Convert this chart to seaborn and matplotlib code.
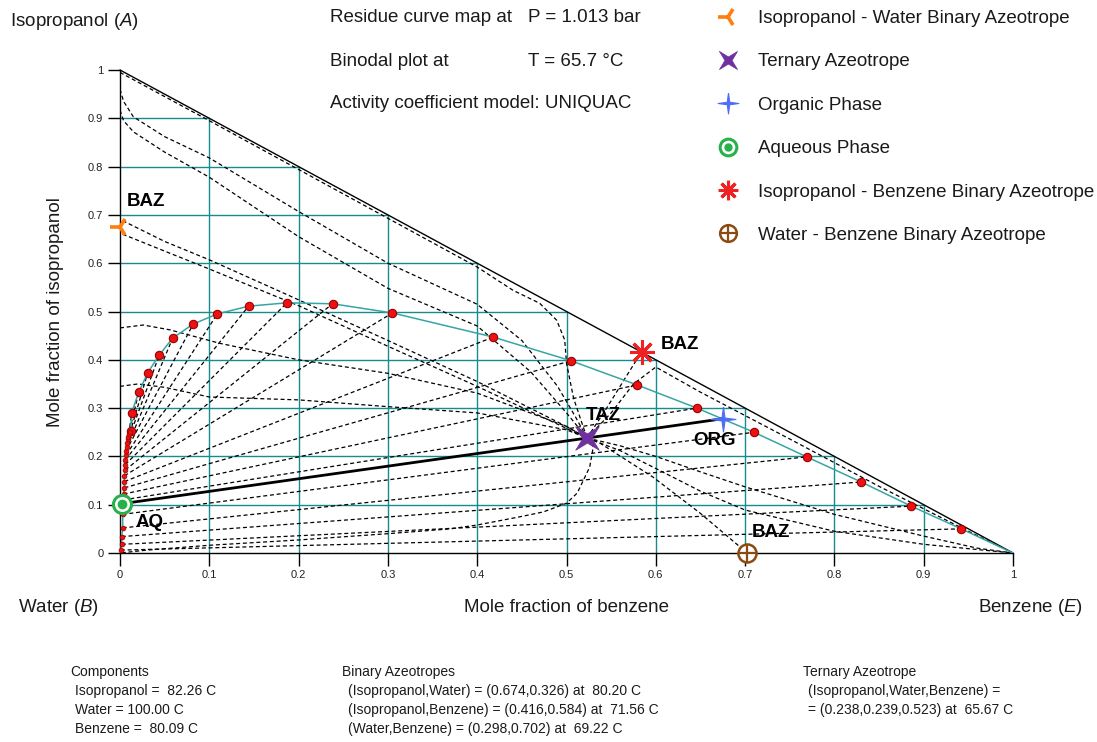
import matplotlib
matplotlib.use("Agg")
import matplotlib.pyplot as plt
from matplotlib.lines import Line2D
import numpy as np
import pandas as pd
import seaborn as sns

# ---------------- data ----------------
tick_values = [0, 0.1, 0.2, 0.3, 0.4, 0.5, 0.6, 0.7, 0.8, 0.9, 1]
tick_labels = ["0", "0.1", "0.2", "0.3", "0.4", "0.5", "0.6", "0.7", "0.8", "0.9", "1"]

# binodal at 65.7 C: organic-phase ends of the tie lines (x = benzene, y = isopropanol)
org_benzene = [0.942, 0.886, 0.830, 0.769, 0.710, 0.646, 0.579, 0.505, 0.418, 0.305, 0.238,
               0.187, 0.144, 0.109, 0.082, 0.059, 0.044, 0.031, 0.021, 0.013, 0.012]
org_ipa = [0.050, 0.097, 0.147, 0.199, 0.250, 0.300, 0.348, 0.398, 0.447, 0.497, 0.516,
           0.518, 0.511, 0.495, 0.474, 0.445, 0.410, 0.373, 0.333, 0.290, 0.253]
# aqueous-phase ends of the same tie lines
aq_benzene = [0.001, 0.002, 0.002, 0.003, 0.003, 0.004, 0.004, 0.005, 0.005, 0.005, 0.006,
              0.006, 0.006, 0.007, 0.007, 0.008, 0.008, 0.009, 0.009, 0.010, 0.011]
aq_ipa = [0.006, 0.018, 0.034, 0.052, 0.080, 0.110, 0.122, 0.135, 0.148, 0.160, 0.172,
          0.183, 0.193, 0.203, 0.212, 0.220, 0.228, 0.235, 0.241, 0.247, 0.251]
binodal_start = (0.001, 0.0)
binodal_end = (1.0, 0.0)

# azeotropes and the phase split of the ternary azeotrope
baz_ipa_water = (0.0, 0.674)
baz_ipa_benzene = (0.584, 0.416)
baz_water_benzene = (0.702, 0.0)
taz = (0.523, 0.238)
org_phase = (0.675, 0.278)
aq_phase = (0.002, 0.102)

# residue curves at 1.013 bar
rc_top1_x = [0.000, 0.004, 0.015, 0.05, 0.10, 0.20, 0.30, 0.40, 0.45, 0.49, 0.51, 0.523]
rc_top1_y = [0.960, 0.935, 0.903, 0.862, 0.818, 0.707, 0.600, 0.515, 0.440, 0.345, 0.282, 0.238]
rc_top2_x = [0.000, 0.004, 0.015, 0.05, 0.10, 0.20, 0.30, 0.40, 0.46, 0.50, 0.523]
rc_top2_y = [0.917, 0.895, 0.872, 0.830, 0.778, 0.655, 0.548, 0.470, 0.375, 0.290, 0.238]
rc_edge_x = [0.000, 0.10, 0.20, 0.30, 0.40, 0.44, 0.470, 0.489, 0.498, 0.500, 0.508, 0.518, 0.523]
rc_edge_y = [0.995, 0.895, 0.794, 0.693, 0.592, 0.544, 0.517, 0.482, 0.441, 0.393, 0.320, 0.265, 0.238]
rc_baz1_x = [0.003, 0.05, 0.10, 0.187, 0.30, 0.40, 0.50, 0.523]
rc_baz1_y = [0.688, 0.645, 0.607, 0.535, 0.440, 0.355, 0.262, 0.238]
rc_baz2_x = [0.003, 0.05, 0.10, 0.20, 0.30, 0.40, 0.50, 0.523]
rc_baz2_y = [0.660, 0.625, 0.588, 0.512, 0.428, 0.345, 0.258, 0.238]
rc_w1_x = [0.000, 0.026, 0.056, 0.112, 0.20, 0.30, 0.40, 0.50, 0.523]
rc_w1_y = [0.466, 0.472, 0.462, 0.434, 0.400, 0.372, 0.331, 0.262, 0.238]
rc_w2_x = [0.000, 0.020, 0.050, 0.10, 0.20, 0.30, 0.40, 0.50, 0.523]
rc_w2_y = [0.345, 0.350, 0.343, 0.323, 0.317, 0.303, 0.290, 0.255, 0.238]
rc_w3_x = [0.523, 0.530, 0.526, 0.512, 0.500, 0.474, 0.448, 0.40, 0.37, 0.30, 0.20, 0.10, 0.03, 0.0]
rc_w3_y = [0.238, 0.220, 0.178, 0.124, 0.103, 0.085, 0.075, 0.058, 0.050, 0.040, 0.027, 0.016, 0.006, 0.0]
rc_b1_x = [0.523, 0.537, 0.597, 0.650, 0.694, 0.702]
rc_b1_y = [0.238, 0.228, 0.157, 0.082, 0.013, 0.0]
rc_b2_x = [0.523, 0.56, 0.60, 0.65, 0.70, 0.80, 0.90, 0.96, 1.0]
rc_b2_y = [0.238, 0.222, 0.200, 0.168, 0.137, 0.080, 0.035, 0.010, 0.0]
rc_b3_x = [0.523, 0.56, 0.60, 0.65, 0.70, 0.80, 0.90, 1.0]
rc_b3_y = [0.238, 0.212, 0.175, 0.128, 0.089, 0.045, 0.018, 0.0]
rc_b4_x = [0.523, 0.545, 0.565, 0.584]
rc_b4_y = [0.238, 0.300, 0.360, 0.416]
rc_b5_x = [0.523, 0.550, 0.575, 0.600, 0.650, 0.750, 0.850, 0.950, 1.0]
rc_b5_y = [0.238, 0.290, 0.350, 0.385, 0.333, 0.236, 0.138, 0.045, 0.0]

# ---------------- style ----------------
sns.set_theme(style="white")
plt.rcParams["font.family"] = ["Liberation Sans", "DejaVu Sans"]
plt.rcParams["mathtext.fontset"] = "custom"
plt.rcParams["mathtext.rm"] = "Liberation Sans"
plt.rcParams["mathtext.it"] = "Liberation Sans:italic"

W, H = 1097, 742
fig = plt.figure(figsize=(W / 100, H / 100), dpi=100)
fig.patch.set_facecolor("white")


def fx(px):
    return px / W


def fy(py):
    return 1 - py / H


def thin_star(rotation_deg, inner=0.2):
    """Four-pointed star marker with slender arms."""
    verts = []
    for k in range(8):
        a = np.deg2rad(rotation_deg + 90 + k * 45)
        r = 1.0 if k % 2 == 0 else inner
        verts.append((r * np.cos(a), r * np.sin(a)))
    verts.append(verts[0])
    return verts


TAZ_MARK = thin_star(45, 0.28)
ORG_MARK = thin_star(0, 0.17)

ax = fig.add_axes([fx(120), fy(553), fx(1013) - fx(120), fy(70) - fy(553)])
ax.set_facecolor("white")
ax.set_xlim(0, 1)
ax.set_ylim(0, 1)

GRID = "#178c8c"
BINODAL = "#38a5a5"
DASH = (0, (3.2, 2.2))

# grid clipped to the triangle
for t in tick_values[1:-1]:
    ax.plot([t, t], [0, 1 - t], color=GRID, lw=1.0, zorder=1)
    ax.plot([0, 1 - t], [t, t], color=GRID, lw=1.0, zorder=1)
# hypotenuse
ax.plot([0, 1], [1, 0], color="black", lw=1.0, zorder=2, clip_on=False)

# tie lines
tie_rows = []
for i in range(len(org_benzene)):
    tie_rows.append({"line": i, "x": aq_benzene[i], "y": aq_ipa[i]})
    tie_rows.append({"line": i, "x": org_benzene[i], "y": org_ipa[i]})
tie_df = pd.DataFrame(tie_rows)
sns.lineplot(data=tie_df, x="x", y="y", units="line", estimator=None, sort=False,
             color="black", lw=0.9, linestyle=DASH, ax=ax, legend=False, zorder=2)

# residue curves
curves = {
    "top1": (rc_top1_x, rc_top1_y), "top2": (rc_top2_x, rc_top2_y),
    "edge": (rc_edge_x, rc_edge_y), "baz1": (rc_baz1_x, rc_baz1_y),
    "baz2": (rc_baz2_x, rc_baz2_y), "w1": (rc_w1_x, rc_w1_y),
    "w2": (rc_w2_x, rc_w2_y), "w3": (rc_w3_x, rc_w3_y),
    "b1": (rc_b1_x, rc_b1_y), "b2": (rc_b2_x, rc_b2_y),
    "b3": (rc_b3_x, rc_b3_y), "b4": (rc_b4_x, rc_b4_y), "b5": (rc_b5_x, rc_b5_y),
}
rc_rows = []
for name, (xs, ys) in curves.items():
    for k, (xv, yv) in enumerate(zip(xs, ys)):
        rc_rows.append({"curve": name, "order": k, "x": xv, "y": yv})
rc_df = pd.DataFrame(rc_rows)
sns.lineplot(data=rc_df, x="x", y="y", units="curve", estimator=None, sort=False,
             color="black", lw=0.9, linestyle=DASH, ax=ax, legend=False, zorder=2)

# binodal curve
bin_x = [binodal_start[0]] + aq_benzene + org_benzene[::-1] + [binodal_end[0]]
bin_y = [binodal_start[1]] + aq_ipa + org_ipa[::-1] + [binodal_end[1]]
sns.lineplot(x=bin_x, y=bin_y, sort=False, estimator=None, color=BINODAL, lw=1.1,
             ax=ax, zorder=3)
sns.scatterplot(x=org_benzene, y=org_ipa, color="#ee1111", edgecolor="#990000",
                linewidth=0.8, s=36, ax=ax, zorder=5, clip_on=False)
sns.scatterplot(x=aq_benzene, y=aq_ipa, color="#ee1111", edgecolor="#990000",
                linewidth=0.5, s=12, ax=ax, zorder=5, clip_on=False)

# tie line through the ternary azeotrope
ax.plot([aq_phase[0], taz[0], org_phase[0]], [aq_phase[1], taz[1], org_phase[1]],
        color="black", lw=2.0, zorder=4, solid_capstyle="butt")

# point markers
C_ORANGE, C_PURPLE, C_BLUE = "#ff7f0e", "#7030a0", "#4f6ef5"
C_GREEN, C_RED, C_BROWN = "#27b14a", "#ee2222", "#8b4a12"
mk = dict(zorder=7, clip_on=False, linestyle="none")
ax.plot(*baz_ipa_water, marker="3", ms=14, mew=2.6, color=C_ORANGE, **mk)
ax.plot(*taz, marker=TAZ_MARK, ms=17, color=C_PURPLE, mec=C_PURPLE, mew=0.5, **mk)
ax.plot(*org_phase, marker=ORG_MARK, ms=18, color=C_BLUE, mec=C_BLUE, mew=0.8, **mk)
ax.plot(*aq_phase, marker="o", ms=13, mfc="white", mec=C_GREEN, mew=2.2, **mk)
ax.plot(*aq_phase, marker="o", ms=6, mfc=C_GREEN, mec=C_GREEN, **mk)
ax.plot(*baz_ipa_benzene, marker=(8, 2, 0), ms=18, mew=2.2, color=C_RED, **mk)
ax.plot(*baz_water_benzene, marker="o", ms=13, mfc="white", mec=C_BROWN, mew=1.8, **mk)
ax.plot(*baz_water_benzene, marker="+", ms=13, mec=C_BROWN, mew=1.6, **mk)

# point labels
lab = dict(fontsize=13.5, fontweight="bold", va="center", ha="left", zorder=8,
           color="black")
ax.text(0.007, 0.727, "BAZ", **lab)
ax.text(0.605, 0.431, "BAZ", **lab)
ax.text(0.521, 0.284, "TAZ", **lab)
ax.text(0.642, 0.232, "ORG", **lab)
ax.text(0.017, 0.064, "AQ", **lab)
ax.text(0.708, 0.043, "BAZ", **lab)

# axes and ticks
for s in ("top", "right"):
    ax.spines[s].set_visible(False)
for s in ("left", "bottom"):
    ax.spines[s].set_color("black")
    ax.spines[s].set_linewidth(1.0)
ax.set_xticks(tick_values)
ax.set_xticklabels(tick_labels)
ax.set_yticks(tick_values)
ax.set_yticklabels(tick_labels)
ax.tick_params(direction="out", length=9, width=1.0, color="black", labelsize=8,
               labelcolor="#222222", pad=3, left=True, bottom=True)
ax.set_xlabel("")
ax.set_ylabel("")

# titles and corner labels
txt = dict(fontsize=13.5, color="#1a1a1a", va="center")
fig.text(fx(10), fy(22), "Isopropanol ($\\mathit{A}$)", ha="left", **txt)
fig.text(fx(18), fy(607), "Water ($\\mathit{B}$)", ha="left", **txt)
fig.text(fx(978), fy(607), "Benzene ($\\mathit{E}$)", ha="left", **txt)
fig.text(fx(567), fy(607), "Mole fraction of benzene", ha="center", **txt)
fig.text(fx(55), fy(312), "Mole fraction of isopropanol", ha="center", rotation=90, **txt)
fig.text(fx(330), fy(18), "Residue curve map at", ha="left", **txt)
fig.text(fx(528), fy(18), "P = 1.013 bar", ha="left", **txt)
fig.text(fx(330), fy(61), "Binodal plot at", ha="left", **txt)
fig.text(fx(528), fy(61), "T = 65.7 °C", ha="left", **txt)
fig.text(fx(330), fy(103), "Activity coefficient model: UNIQUAC", ha="left", **txt)

# legend
handles = [
    Line2D([], [], marker="3", ms=14, mew=2.6, color=C_ORANGE, ls="none"),
    Line2D([], [], marker=TAZ_MARK, ms=13, color=C_PURPLE, mew=0.5, ls="none"),
    Line2D([], [], marker=ORG_MARK, ms=15, color=C_BLUE, mew=0.8, ls="none"),
    (Line2D([], [], marker="o", ms=12, mfc="white", mec=C_GREEN, mew=2.2, ls="none"),
     Line2D([], [], marker="o", ms=5, mfc=C_GREEN, mec=C_GREEN, ls="none")),
    Line2D([], [], marker=(8, 2, 0), ms=14, mew=2.2, color=C_RED, ls="none"),
    (Line2D([], [], marker="o", ms=12, mfc="white", mec=C_BROWN, mew=1.8, ls="none"),
     Line2D([], [], marker="+", ms=12, mec=C_BROWN, mew=1.6, ls="none")),
]
labels = ["Isopropanol - Water Binary Azeotrope", "Ternary Azeotrope", "Organic Phase",
          "Aqueous Phase", "Isopropanol - Benzene Binary Azeotrope",
          "Water - Benzene Binary Azeotrope"]
leg = fig.legend(handles, labels, loc="upper left", bbox_to_anchor=(fx(717), fy(10)),
                 frameon=False, fontsize=13.5, labelspacing=1.4, handlelength=1.2,
                 handletextpad=0.98, borderpad=0, borderaxespad=0)
for t in leg.get_texts():
    t.set_color("#1a1a1a")

# summary block
small = dict(fontsize=10, color="#1a1a1a", va="center", ha="left")
fig.text(fx(70), fy(672), "Components", **small)
fig.text(fx(75), fy(691), "Isopropanol =  82.26 C", **small)
fig.text(fx(75), fy(710), "Water = 100.00 C", **small)
fig.text(fx(75), fy(729), "Benzene =  80.09 C", **small)
fig.text(fx(342), fy(672), "Binary Azeotropes", **small)
fig.text(fx(348), fy(691), "(Isopropanol,Water) = (0.674,0.326) at  80.20 C", **small)
fig.text(fx(348), fy(710), "(Isopropanol,Benzene) = (0.416,0.584) at  71.56 C", **small)
fig.text(fx(348), fy(729), "(Water,Benzene) = (0.298,0.702) at  69.22 C", **small)
fig.text(fx(803), fy(672), "Ternary Azeotrope", **small)
fig.text(fx(808), fy(691), "(Isopropanol,Water,Benzene) =", **small)
fig.text(fx(808), fy(710), "= (0.238,0.239,0.523) at  65.67 C", **small)

fig.savefig("out.png", dpi=100, facecolor="white")
